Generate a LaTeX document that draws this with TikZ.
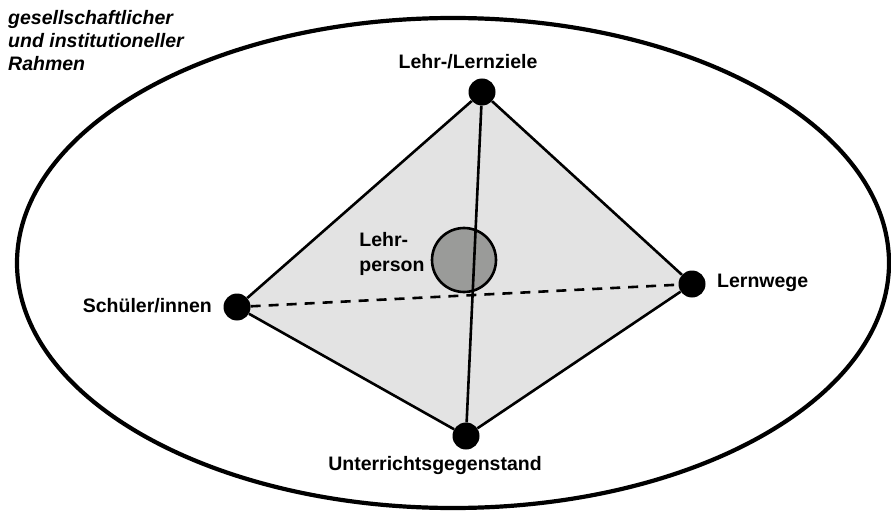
\documentclass[tikz,border=0pt]{standalone}
\usepackage{fontspec}
\setmainfont{Liberation Sans}
\usetikzlibrary{positioning, backgrounds}

\definecolor{flaechegrau}{HTML}{E3E3E3}
\definecolor{lehrergrau}{HTML}{9A9B99}

\begin{document}
\begin{tikzpicture}[
		x=1pt, y=-1pt,
		% --- STILE ---
		eckpunkt/.style={
			circle,
			fill=black,
			minimum size=27pt,
			inner sep=0pt
		},
		beschriftung/.style={
			font=\fontsize{19.5}{25}\selectfont\bfseries,
			inner sep=0pt,
			align=center
		},
		kante/.style={
			line width=2.6pt
		},
		rahmen/.style={
			line width=4.2pt
		},
		lehrkreis/.style={
			circle,
			draw,
			line width=2.6pt,
			fill=lehrergrau,
			minimum size=64pt,
			inner sep=0pt
		}
		]
		
		\useasboundingbox (0,0) rectangle (891,513);
		
		% --- RAHMEN ---
		\draw [rahmen] (453,263) ellipse [x radius=436pt, y radius=245pt];
		\node (rahmentext) [beschriftung, align=left, anchor=north west, font=\fontsize{19.5}{23}\selectfont\bfseries\itshape] at (8,10) {
			gesellschaftlicher\\
			und institutioneller\\
			Rahmen
		};
		
		% --- ECKPUNKTE ---
		\node (ziele) [eckpunkt] at (482,92) {};
		\node (schueler) [eckpunkt] at (237,307) {};
		\node (wege) [eckpunkt] at (692,284) {};
		\node (gegenstand) [eckpunkt] at (466,436) {};
		
		% --- BESCHRIFTUNGEN ---
		\node [beschriftung] at (468,62) {Lehr-/Lernziele};
		\node [beschriftung, anchor=east] at (212,306) {Schüler/innen};
		\node [beschriftung, anchor=west] at (717,283) {Lernwege};
		\node [beschriftung] at (435,465) {Unterrichtsgegenstand};
		
		% --- FLAECHE, LEHRPERSON ---
		\begin{scope}[on background layer]
			\fill [flaechegrau] (ziele.center) -- (wege.center) -- (gegenstand.center) -- (schueler.center) -- cycle;
			\draw [kante, dashed, dash pattern=on 10pt off 8pt] (schueler) -- (wege);
			\node (lehrer) [lehrkreis] at (464,260) {};
		\end{scope}
		\node [beschriftung, align=left, left=6pt of lehrer, yshift=6pt] {Lehr-\\person};
		
		% --- KANTEN ---
		\draw [kante] (ziele) -- (schueler) -- (gegenstand) -- (wege) -- (ziele);
		\draw [kante] (ziele) -- (gegenstand);
		
	\end{tikzpicture}
\end{document}
